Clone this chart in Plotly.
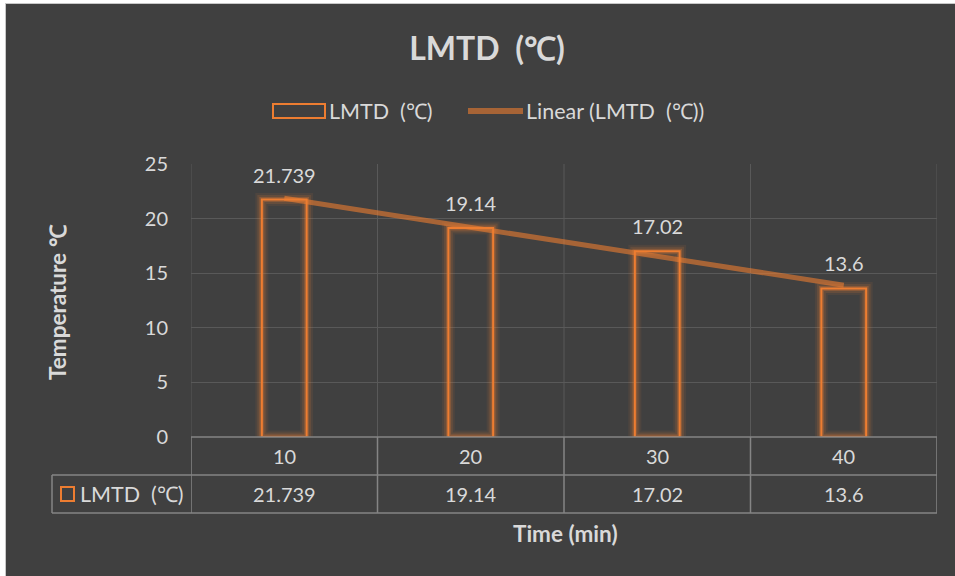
import numpy as np
import plotly.graph_objects as go

# ---- data ----
times = ["10", "20", "30", "40"]
lmtd = [21.739, 19.14, 17.02, 13.6]
series_name = "LMTD  (℃)"
trend_name = "Linear (LMTD  (℃))"
chart_title = "LMTD  (℃)"
x_title = "Time (min)"
y_title = "Temperature ℃"
y_ticks = [0, 5, 10, 15, 20, 25]

# ---- style ----
BG = "#404040"
TXT = "#d9d9d9"
ORANGE = "#ED7D31"
FONT = "Lato, 'Open Sans', sans-serif"
W, H = 955, 576
L, T = 191, 164
R, B = W - 937, H - 437
PW, PH = W - L - R, H - T - B


def px(xp):
    return (xp - L) / PW


def py(yp):
    return (H - B - yp) / PH


def keep_spaces(s):
    return s.replace("  ", " \u00a0")


# linear trendline (least squares over category index, as a spreadsheet does)
idx = np.arange(1, len(lmtd) + 1)
slope, intercept = np.polyfit(idx, lmtd, 1)
trend = slope * idx + intercept

fig = go.Figure()

# glow layers
for w, a in [(13, 0.08), (9, 0.14), (5, 0.28)]:
    fig.add_trace(go.Bar(
        x=times, y=lmtd, width=0.24,
        marker=dict(color="rgba(0,0,0,0)", line=dict(color=f"rgba(237,125,49,{a})", width=w)),
        showlegend=False, hoverinfo="skip"))

fig.add_trace(go.Bar(
    x=times, y=lmtd, width=0.24, name=series_name,
    marker=dict(color="rgba(0,0,0,0)", line=dict(color=ORANGE, width=2)),
    showlegend=False))

fig.add_trace(go.Scatter(
    x=times, y=trend, mode="lines", name=trend_name,
    line=dict(color="rgba(237,125,49,0.6)", width=5), showlegend=False))

shapes = []
# chart area with thin light border at top/left (white page edge outside)
shapes.append(dict(type="rect", xref="paper", yref="paper", layer="below",
                   x0=px(5.5), x1=px(W + 10), y0=py(3.5), y1=py(H + 10),
                   fillcolor=BG, line=dict(color="#c8c8c8", width=1)))
GRID = "#595959"
TLINE = "#858585"
n = len(times)
# vertical gridlines at category boundaries (plot part and table part)
for i in range(n + 1):
    xb = i - 0.5
    shapes.append(dict(type="line", xref="x", yref="paper", x0=xb, x1=xb, y0=0, y1=1,
                       line=dict(color=GRID, width=1), layer="below"))
    shapes.append(dict(type="line", xref="x", yref="paper", x0=xb, x1=xb, y0=0, y1=py(513),
                       line=dict(color=TLINE, width=1.5)))
# table horizontal lines
shapes.append(dict(type="line", xref="x", yref="paper", x0=-0.5, x1=n - 0.5, y0=0, y1=0,
                   line=dict(color=TLINE, width=1.5)))
for yy in (475, 513):
    shapes.append(dict(type="line", xref="paper", yref="paper", x0=px(52), x1=1, y0=py(yy), y1=py(yy),
                       line=dict(color=TLINE, width=1.5)))
shapes.append(dict(type="line", xref="paper", yref="paper", x0=px(52), x1=px(52), y0=py(475), y1=py(513),
                   line=dict(color=TLINE, width=1.5)))
# legend key in table
shapes.append(dict(type="rect", xref="paper", yref="paper", x0=px(61), x1=px(74), y0=py(487), y1=py(501),
                   line=dict(color=ORANGE, width=2)))
# top legend keys
shapes.append(dict(type="rect", xref="paper", yref="paper", x0=px(273), x1=px(325), y0=py(104), y1=py(118),
                   line=dict(color=ORANGE, width=2)))
shapes.append(dict(type="line", xref="paper", yref="paper", x0=px(468), x1=px(523), y0=py(111), y1=py(111),
                   line=dict(color="rgba(237,125,49,0.6)", width=6)))

ann = []
f20 = dict(family=FONT, size=20, color=TXT)
f21 = dict(family=FONT, size=21.5, color=TXT)
fb = dict(family=FONT, size=22.5, color=TXT)
# data labels and table rows
for i, (t, v) in enumerate(zip(times, lmtd)):
    ann.append(dict(x=i, y=v, xref="x", yref="y", text=f"{v:g}", showarrow=False,
                    yshift=25, yanchor="middle", font=f20))
    ann.append(dict(x=i, y=py(456), xref="x", yref="paper", text=t, showarrow=False,
                    yanchor="middle", font=f20))
    ann.append(dict(x=i, y=py(494), xref="x", yref="paper", text=f"{v:g}", showarrow=False,
                    yanchor="middle", font=f20))
ann.append(dict(x=px(78), y=py(494), xref="paper", yref="paper", text=keep_spaces(series_name),
                showarrow=False, xanchor="left", yanchor="middle", font=f21))
# legend texts
ann.append(dict(x=px(327), y=py(111), xref="paper", yref="paper", text=keep_spaces(series_name),
                showarrow=False, xanchor="left", yanchor="middle", font=f21))
ann.append(dict(x=px(524), y=py(111), xref="paper", yref="paper", text=keep_spaces(trend_name),
                showarrow=False, xanchor="left", yanchor="middle", font=f21))
# axis titles
ann.append(dict(x=px(565), y=py(533), xref="paper", yref="paper", text=f"<b>{x_title}</b>",
                showarrow=False, xanchor="center", yanchor="middle", font=fb))
ann.append(dict(x=px(57), y=py(302), xref="paper", yref="paper", text=f"<b>{y_title}</b>",
                showarrow=False, textangle=-90, xanchor="center", yanchor="middle", font=fb))

fig.update_layout(
    width=W, height=H,
    margin=dict(l=L, r=R, t=T, b=B),
    paper_bgcolor="white", plot_bgcolor="rgba(0,0,0,0)",
    barmode="overlay",
    showlegend=False,
    title=dict(text=f"<b>{keep_spaces(chart_title)}</b>", x=487 / W, xanchor="center",
               y=1 - 49 / H, yanchor="middle",
               font=dict(family=FONT, size=32, color=TXT)),
    xaxis=dict(type="category", categoryorder="array", categoryarray=times, range=[-0.5, n - 0.5],
               showgrid=False, showticklabels=False, zeroline=False, showline=False, ticks=""),
    yaxis=dict(range=[0, 25], tickvals=y_ticks, showgrid=True, gridcolor=GRID, gridwidth=1,
               zeroline=False, showline=False, ticks="", ticklabelstandoff=22,
               tickfont=f20),
    shapes=shapes, annotations=ann,
    font=dict(family=FONT),
)

fig.write_html(
    "out.html",
    config={"displayModeBar": False},
    post_script="document.body.style.margin='0';document.body.style.overflow='hidden';",
)
